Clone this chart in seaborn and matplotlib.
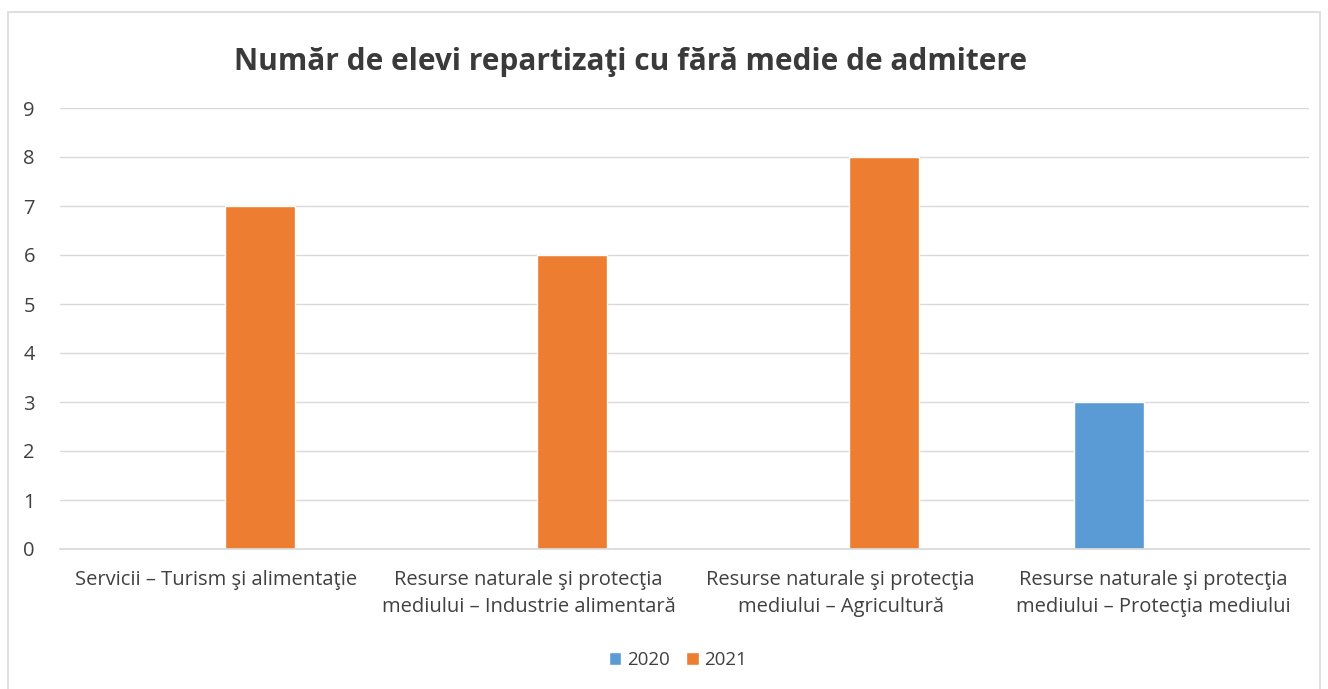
import pandas as pd
import matplotlib.pyplot as plt
import seaborn as sns
from matplotlib.patches import Rectangle

categories = [
    'Servicii – Turism şi alimentaţie',
    'Resurse naturale şi protecţia\nmediului – Industrie alimentară',
    'Resurse naturale şi protecţia\nmediului – Agricultură',
    'Resurse naturale şi protecţia\nmediului – Protecţia mediului',
]
years = ['2020', '2021']
values_2020 = [0, 0, 0, 3]
values_2021 = [7, 6, 8, 0]
y_ticks = list(range(0, 10))

df = pd.DataFrame({
    'categorie': categories * 2,
    'an': [years[0]] * 4 + [years[1]] * 4,
    'elevi': values_2020 + values_2021,
})

sns.set_theme(style='white')
plt.rcParams['font.family'] = ['Open Sans', 'DejaVu Sans']

fig = plt.figure(figsize=(13.28, 6.89), dpi=100)
ax = fig.add_axes([60 / 1328, 1 - 549 / 689, (1309 - 60) / 1328, (549 - 108) / 689])

# chart border like the excel chart area
fig.patches.append(Rectangle((8 / 1328, -0.05), (1320 - 8) / 1328, 1 - 12 / 689 + 0.05,
                             transform=fig.transFigure, fill=False,
                             edgecolor='#D9D9D9', linewidth=1.2))

sns.barplot(data=df, x='categorie', y='elevi', hue='an',
            palette={'2020': '#5B9BD5', '2021': '#ED7D31'}, saturation=1,
            width=0.56, gap=0.2, ax=ax, legend=True)

ax.set_ylim(0, 9)
ax.set_xlim(-0.5, 3.5)
ax.set_yticks(y_ticks)
ax.yaxis.grid(True, color='#D9D9D9', linewidth=1)
ax.set_axisbelow(True)
for s in ['top', 'right', 'left']:
    ax.spines[s].set_visible(False)
ax.spines['bottom'].set_color('#D9D9D9')
ax.set_xlabel('')
ax.set_ylabel('')
ax.tick_params(axis='y', labelsize=14.5, colors='#404040', length=0, pad=18)
ax.tick_params(axis='x', labelsize=14.5, colors='#404040', length=0, pad=15)
for lbl in ax.get_xticklabels():
    lbl.set_linespacing(1.5)

fig.text(631 / 1328, 1 - 62 / 689, 'Număr de elevi repartizaţi cu fără medie de admitere',
         ha='center', va='center', fontsize=21.5, fontweight='bold', color='#3A3A3A')

handles, labels = ax.get_legend_handles_labels()
ax.legend_.remove()
fig.legend(handles, labels, loc='center', bbox_to_anchor=(678 / 1328, 1 - 660 / 689),
           ncol=2, frameon=False, fontsize=13.5, handlelength=0.65, handleheight=0.65,
           handletextpad=0.3, columnspacing=0.9, labelcolor='#404040')

fig.savefig('out.png', dpi=100)
